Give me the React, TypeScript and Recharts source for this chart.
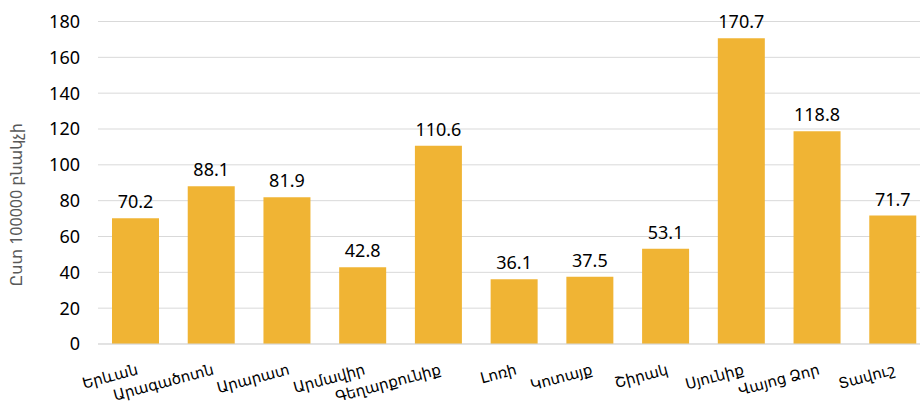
import React from "react";
import { BarChart, Bar, XAxis, YAxis, CartesianGrid, LabelList } from "recharts";

const regions = ["Երևան", "Արագածոտն", "Արարատ", "Արմավիր", "Գեղարքունիք", "Լոռի", "Կոտայք", "Շիրակ", "Սյունիք", "Վայոց Ձոր", "Տավուշ"];
const values = [70.2, 88.1, 81.9, 42.8, 110.6, 36.1, 37.5, 53.1, 170.7, 118.8, 71.7];
const yTicks = [0, 20, 40, 60, 80, 100, 120, 140, 160, 180];
const yLabel = "Ըստ 100000 բնակչի";

const data = regions.map((name, i) => ({ name, value: values[i] }));

const FONT = "'Noto Sans', 'DejaVu Sans', sans-serif";
const NUM_FONT = "'Liberation Sans Narrow', 'Noto Sans', sans-serif";

const XTick = (props: any) => {
  const { x, y, payload } = props;
  return (
    <g transform={`translate(${x + 3},${y + 22}) rotate(-15)`}>
      <text x={0} y={0} textAnchor="end" fontSize={15} fill="#000" fontFamily={FONT}>
        {payload.value}
      </text>
    </g>
  );
};

const YTitle = (props: any) => {
  const vb = props.viewBox || { y: 21.5, height: 322.5 };
  const cy = vb.y + vb.height / 2 + 22;
  return (
    <text
      x={0}
      y={0}
      transform={`translate(22,${cy}) rotate(-90)`}
      textAnchor="middle"
      fontSize={16}
      fill="#595959"
      fontFamily={FONT}
    >
      {yLabel}
    </text>
  );
};

export default function App() {
  return (
    <div style={{ position: "absolute", left: 0, top: 0, width: 920, height: 409, overflow: "hidden", background: "#fff" }}>
      <BarChart
        width={932}
        height={409}
        data={data}
        margin={{ top: 21.5, right: 1, bottom: 0, left: 0 }}
        barCategoryGap={0}
      >
        <CartesianGrid vertical={false} stroke="#d9d9d9" />
        <XAxis
          dataKey="name"
          height={65}
          tickLine={false}
          axisLine={{ stroke: "#d9d9d9" }}
          tick={<XTick />}
          interval={0}
        />
        <YAxis
          domain={[0, 180]}
          ticks={yTicks}
          width={98}
          tickLine={false}
          axisLine={false}
          tickSize={0}
          tickMargin={18}
          tick={{ fontSize: 18, fill: "#000", fontFamily: NUM_FONT }}
          label={{ content: <YTitle /> }}
        />
        <Bar dataKey="value" fill="#F0B434" barSize={47} isAnimationActive={false}>
          <LabelList dataKey="value" position="top" offset={10} style={{ fontSize: 18, fill: "#000", fontFamily: NUM_FONT }} />
        </Bar>
      </BarChart>
    </div>
  );
}
